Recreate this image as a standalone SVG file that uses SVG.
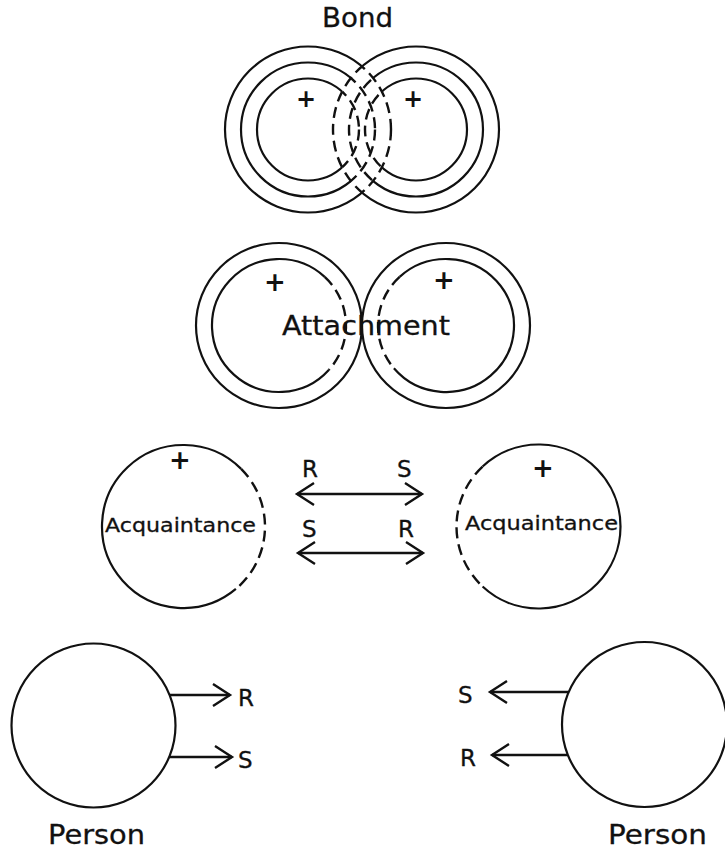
<svg xmlns="http://www.w3.org/2000/svg" width="725" height="852" viewBox="0 0 725 852">
<style>
.ln{fill:none;stroke:#111;stroke-width:2.2}
.ds{fill:none;stroke:#111;stroke-width:2.4;stroke-dasharray:11 6}
.ar{fill:none;stroke:#111;stroke-width:2.4}
.t{font-family:"DejaVu Sans","Liberation Sans",sans-serif;fill:#111;stroke:#111;stroke-width:0.3}
.pl{font-family:"DejaVu Sans","Liberation Sans",sans-serif;fill:#111;font-weight:bold;text-anchor:middle}
</style>
<defs>
<marker id="hd" viewBox="-20 -13 24 26" markerWidth="24" markerHeight="26" refX="0" refY="0" markerUnits="userSpaceOnUse" orient="auto-start-reverse">
<path d="M-17,-11 L0,0 L-17,11" fill="none" stroke="#111" stroke-width="2.4"/>
</marker>
<clipPath id="inR"><circle cx="416" cy="129.5" r="83"/></clipPath>
<clipPath id="inL"><circle cx="308" cy="129.5" r="83"/></clipPath>
<clipPath id="outR"><path clip-rule="evenodd" d="M0 0H725V852H0Z M333 129.5a83 83 0 1 0 166 0a83 83 0 1 0 -166 0Z"/></clipPath>
<clipPath id="outL"><path clip-rule="evenodd" d="M0 0H725V852H0Z M225 129.5a83 83 0 1 0 166 0a83 83 0 1 0 -166 0Z"/></clipPath>
</defs>

<g id="bond">
<text class="t" x="322" y="27" font-size="26" textLength="71" lengthAdjust="spacingAndGlyphs">Bond</text>
<g class="ln" clip-path="url(#outR)">
<circle cx="308" cy="129.5" r="83"/><circle cx="308" cy="129.5" r="67"/><circle cx="308" cy="129.5" r="51"/>
</g>
<g class="ds" clip-path="url(#inR)">
<circle cx="308" cy="129.5" r="83"/><circle cx="308" cy="129.5" r="67"/><circle cx="308" cy="129.5" r="51"/>
</g>
<g class="ln" clip-path="url(#outL)">
<circle cx="416" cy="129.5" r="83"/><circle cx="416" cy="129.5" r="67"/><circle cx="416" cy="129.5" r="51"/>
</g>
<g class="ds" clip-path="url(#inL)">
<circle cx="416" cy="129.5" r="83"/><circle cx="416" cy="129.5" r="67"/><circle cx="416" cy="129.5" r="51"/>
</g>
<text class="pl" x="306" y="107" font-size="24">+</text>
<text class="pl" x="413" y="107" font-size="24">+</text>
</g>

<g id="attachment">
<ellipse class="ln" cx="279" cy="325.5" rx="83" ry="82.5"/>
<ellipse class="ln" cx="446" cy="325.5" rx="84" ry="82.5"/>
<path class="ln" d="M324.69 276.87 A67 66.5 0 1 0 328.79 369.99"/>
<path class="ds" d="M324.69 276.87 A67 66.5 0 0 1 328.79 369.99"/>
<path class="ln" d="M399.62 276.87 A68 66.5 0 1 1 393.91 368.25"/>
<path class="ds" d="M399.62 276.87 A68 66.5 0 0 0 393.91 368.25"/>
<text class="pl" x="275" y="291" font-size="26">+</text>
<text class="pl" x="444" y="289" font-size="26">+</text>
<text class="t" x="282" y="335" font-size="27" textLength="168" lengthAdjust="spacingAndGlyphs">Attachment</text>
</g>

<g id="acquaintance-left">
<path class="ln" d="M241.13 468.87 A81.5 81.5 0 1 0 235.89 588.93"/>
<path class="ds" d="M241.13 468.87 A81.5 81.5 0 0 1 235.89 588.93"/>
<text class="pl" x="180" y="469" font-size="26">+</text>
<text class="t" x="105" y="532" font-size="20" textLength="151" lengthAdjust="spacingAndGlyphs">Acquaintance</text>
</g>

<g id="acquaintance-right">
<path class="ln" d="M482.58 466.53 A82 82 0 1 1 482.58 586.47"/>
<path class="ds" d="M482.58 466.53 A82 82 0 0 0 482.58 586.47"/>
<text class="pl" x="543" y="477" font-size="26">+</text>
<text class="t" x="465" y="530" font-size="20" textLength="153" lengthAdjust="spacingAndGlyphs">Acquaintance</text>
</g>

<g id="person-left">
<circle class="ln" cx="93.5" cy="725.5" r="82"/>
<text class="t" x="48" y="844" font-size="27" textLength="97" lengthAdjust="spacingAndGlyphs">Person</text>
</g>

<g id="person-right">
<circle class="ln" cx="644.5" cy="724.5" r="82.5"/>
<text class="t" x="608" y="844" font-size="27" textLength="99" lengthAdjust="spacingAndGlyphs">Person</text>
</g>

<g id="connectors">
<line class="ar" x1="297" y1="494" x2="422" y2="494" marker-start="url(#hd)" marker-end="url(#hd)"/>
<line class="ar" x1="298" y1="553" x2="423" y2="553" marker-start="url(#hd)" marker-end="url(#hd)"/>
<line class="ar" x1="169.5" y1="695" x2="230" y2="695" marker-end="url(#hd)"/>
<line class="ar" x1="169" y1="757" x2="232" y2="757" marker-end="url(#hd)"/>
<line class="ar" x1="568.7" y1="692" x2="490" y2="692" marker-end="url(#hd)"/>
<line class="ar" x1="568" y1="755" x2="492" y2="755" marker-end="url(#hd)"/>
<text class="t" x="302" y="477" font-size="23">R</text>
<text class="t" x="397" y="477" font-size="23">S</text>
<text class="t" x="302" y="537" font-size="23">S</text>
<text class="t" x="398" y="537" font-size="23">R</text>
<text class="t" x="238" y="706" font-size="23">R</text>
<text class="t" x="238" y="768" font-size="23">S</text>
<text class="t" x="458" y="703" font-size="23">S</text>
<text class="t" x="460" y="766" font-size="23">R</text>
</g>
</svg>
